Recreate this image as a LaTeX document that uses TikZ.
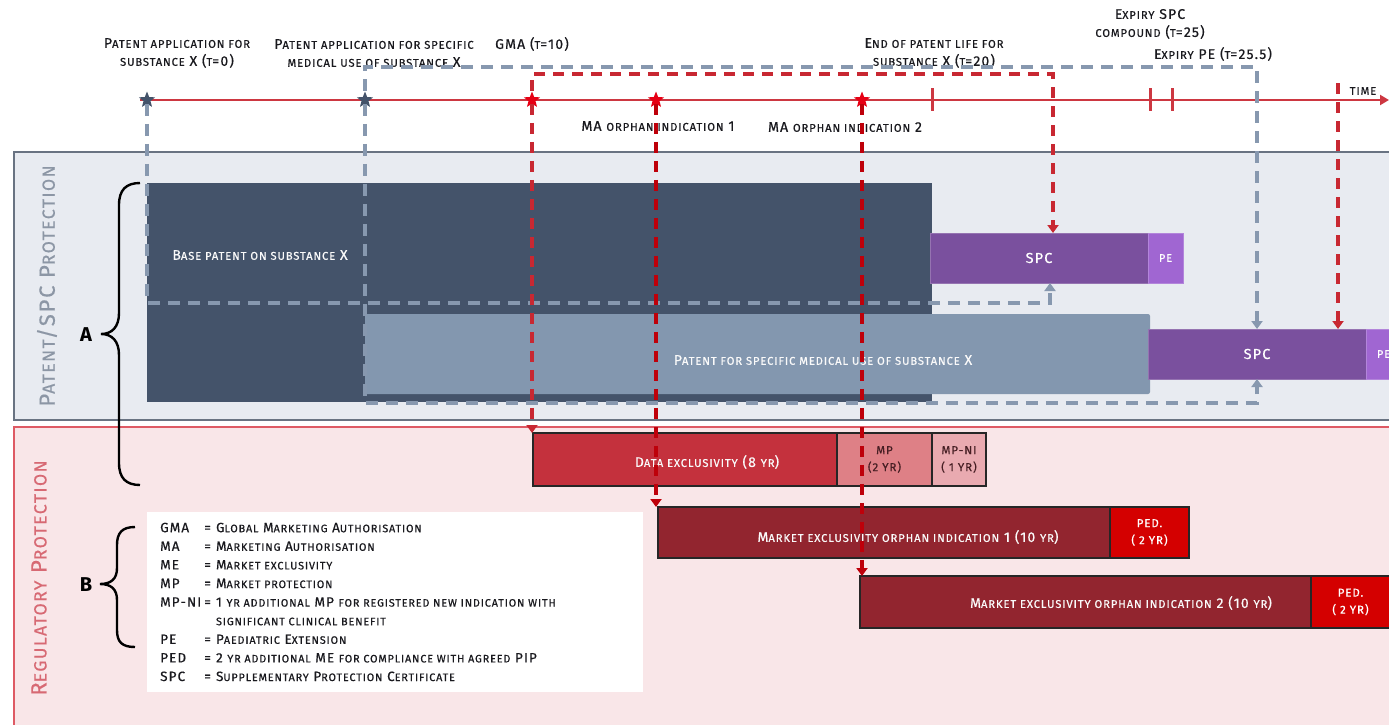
\documentclass[tikz,border=0pt]{standalone}
\usepackage{fontspec}
\setmainfont{Fira Sans}[LetterSpace=8, UprightFeatures={FakeBold=0.5}]
\usetikzlibrary{shapes.geometric,arrows.meta}
\makeatletter
\newcommand\sk[1]{{\fontsize{\the\dimexpr\f@size pt*80/100\relax}{\f@baselineskip}\selectfont\MakeUppercase{#1}}}
\makeatother
\definecolor{navy}{RGB}{68,83,106}
\definecolor{steel}{RGB}{131,151,175}
\definecolor{dashgray}{RGB}{135,152,175}
\definecolor{bandA}{RGB}{232,235,241}
\definecolor{bandAline}{RGB}{105,115,130}
\definecolor{bandB}{RGB}{249,230,232}
\definecolor{bandBline}{RGB}{222,90,100}
\definecolor{spc}{RGB}{122,80,158}
\definecolor{pe}{RGB}{160,102,210}
\definecolor{de}{RGB}{196,49,61}
\definecolor{mp}{RGB}{222,128,134}
\definecolor{mpni}{RGB}{233,170,176}
\definecolor{me}{RGB}{146,37,47}
\definecolor{ped}{RGB}{212,0,0}
\definecolor{tline}{RGB}{205,55,65}
\definecolor{dashred}{RGB}{200,40,50}
\definecolor{dashdark}{RGB}{190,0,10}
\definecolor{starred}{RGB}{230,0,20}
\definecolor{vtextA}{RGB}{140,150,165}
\definecolor{vtextB}{RGB}{215,105,115}
\definecolor{ink}{RGB}{25,25,30}
\definecolor{mptext}{RGB}{70,30,35}
\tikzset{
  bar/.style={rectangle, anchor=north west, inner sep=0pt, outer sep=0pt, align=center},
  barline/.style={draw=black!85, line width=1.2pt},
  lbl/.style={text=ink, align=center, inner sep=0pt},
  wtext/.style={text=white!96!gray, inner sep=0pt, align=center},
  gdash/.style={draw=dashgray, line width=3.6pt, dash pattern=on 12pt off 8pt, -{Triangle[width=11pt,length=8pt]}},
  rdash/.style={draw=dashred, line width=3.3pt, dash pattern=on 11pt off 8pt, -{Triangle[width=11pt,length=8pt]}},
  ddash/.style={rdash, draw=dashdark},
  starA/.style={star, star points=5, star point ratio=2.3, inner sep=0pt, minimum size=17pt, fill=navy},
  starB/.style={starA, fill=starred},
  tickmark/.style={draw=tline, line width=3pt},
  bracepath/.style={draw=black, line width=2.4pt},
}
\begin{document}
\begin{tikzpicture}[x=1pt,y=-1pt,font=\fontsize{14}{18}\selectfont]
\clip (0,0) rectangle (1389,725);
\fill[white] (0,0) rectangle (1389,725);
% bands
\filldraw[fill=bandA, draw=bandAline, line width=2pt] (14,152) rectangle (1405,420);
\filldraw[fill=bandB, draw=bandBline, line width=2pt] (14,427) rectangle (1405,740);
\node[rotate=90, text=vtextA, inner sep=0pt, font=\fontsize{22}{24}\selectfont] (vA) at (47,286) {P\sk{atent}/SPC P\sk{rotection}};
\node[rotate=90, text=vtextB, inner sep=0pt, font=\fontsize{22}{24}\selectfont] (vB) at (39,578) {R\sk{egulatory} P\sk{rotection}};
% timeline
\coordinate (t0) at (140,100);
\coordinate (t1) at (1389,100);
\draw[draw=tline, line width=2pt, -{Triangle[width=10pt,length=9pt]}] (t0) -- (t1);
\draw[tickmark] (932,88) -- (932,111);
\draw[tickmark] (1150,88) -- (1150,111);
\draw[tickmark] (1172,88) -- (1172,111);
\node[starA] (s0) at (147,100) {};
\node[starA] (s1) at (365,100) {};
\node[starB] (s2) at (532,100) {};
\node[starB] (s3) at (656,100) {};
\node[starB] (s4) at (862,100) {};
% top labels
\node[lbl] (l0) at (177,53) {P\sk{atent application for}\\\sk{substance} X (\sk{t}=0)};
\node[lbl] (l1) at (374,53) {P\sk{atent application for specific}\\\sk{medical use of substance} X};
\node[lbl] (lg) at (532,44) {GMA (\sk{t}=10)};
\node[lbl] (lm1) at (658,126) {MA \sk{orphan indication} 1};
\node[lbl] (lm2) at (845,127) {MA \sk{orphan indication} 2};
\node[lbl] (le) at (934,53) {E\sk{nd of patent life for}\\\sk{substance} X (\sk{t}=20)};
\node[lbl] (lx) at (1150,24) {E\sk{xpiry} SPC\\\sk{compound} (\sk{t}=25)};
\node[lbl] (lp) at (1213,54) {E\sk{xpiry} PE (\sk{t}=25.5)};
\node[lbl] (lt) at (1363,91) {\sk{time}};
% patent bars
\node[bar, fill=navy, minimum width=785pt, minimum height=219pt] (base) at (147,183) {};
\node[bar, fill=steel, rounded corners=2pt, minimum width=785pt, minimum height=80pt] (medu) at (365,314) {};
\node[wtext] (baseT) at (260,255) {B\sk{ase patent on substance} X};
\node[wtext] (meduT) at (823,360) {P\sk{atent for specific medical use of substance} X};
\node[bar, fill=spc, draw=spc!80!white, line width=0.8pt, minimum width=218pt, minimum height=50pt, text=white, font=\fontsize{14.5}{17}\selectfont] (spc1) at (930,233) {SPC};
\node[bar, fill=pe, draw=pe!80!white, line width=0.8pt, minimum width=35pt, minimum height=50pt, text=white, font=\fontsize{11}{13}\selectfont] (pe1) at (1148,233) {PE};
\node[bar, fill=spc, draw=spc!80!white, line width=0.8pt, minimum width=218pt, minimum height=50pt, text=white, font=\fontsize{14.5}{17}\selectfont] (spc2) at (1148,329) {SPC};
\node[bar, fill=pe, draw=pe!80!white, line width=0.8pt, minimum width=35pt, minimum height=50pt, text=white, font=\fontsize{11}{13}\selectfont] (pe2) at (1366,329) {PE};
% regulatory bars
\node[bar, barline, fill=de, minimum width=304pt, minimum height=53pt] (de) at (533,433) {};
\node[wtext] (deT) at (707,462) {D\sk{ata exclusivity} (8 \sk{yr})};
\node[bar, barline, fill=mp, minimum width=95pt, minimum height=53pt, text=mptext, font=\fontsize{11.5}{17}\selectfont] (mp) at (837,433) {MP\\(2 YR)};
\node[bar, barline, fill=mpni, minimum width=54pt, minimum height=53pt, text=mptext, font=\fontsize{11.5}{17}\selectfont] (mpni) at (932,433) {MP-NI\\( 1 YR)};
\node[bar, barline, fill=me, minimum width=452pt, minimum height=51pt] (me1) at (658,507) {};
\node[wtext] (me1T) at (908,537) {M\sk{arket exclusivity orphan indication} 1 (10 \sk{yr})};
\node[bar, barline, fill=ped, minimum width=79pt, minimum height=51pt, text=white, font=\fontsize{11.5}{17}\selectfont] (ped1) at (1110,507) {PED.\\( 2 YR)};
\node[bar, barline, fill=me, minimum width=451pt, minimum height=52pt] (me2) at (860,576) {};
\node[wtext] (me2T) at (1121,603) {M\sk{arket exclusivity orphan indication} 2 (10 \sk{yr})};
\node[bar, barline, fill=ped, minimum width=79pt, minimum height=52pt, text=white, font=\fontsize{11.5}{17}\selectfont] (ped2) at (1311,576) {PED.\\( 2 YR)};
% legend
\node[fill=white, anchor=north west, minimum width=496pt, minimum height=180pt, inner sep=0pt] (legbox) at (147,512) {};
\node[anchor=north west, inner sep=0pt, text=ink, font=\fontsize{13.5}{18.6}\selectfont] (legend) at (160,519) {%
\begin{tabular}{@{}l@{\hspace{3pt}}c@{\hspace{5pt}}l@{}}
GMA & = & G\sk{lobal} M\sk{arketing} A\sk{uthorisation}\\
MA & = & M\sk{arketing} A\sk{uthorisation}\\
ME & = & M\sk{arket exclusivity}\\
MP & = & M\sk{arket protection}\\
MP-NI & = & 1 \sk{yr additional} MP \sk{for registered new indication with}\\
 & & \sk{significant clinical benefit}\\
PE & = & P\sk{aediatric} E\sk{xtension}\\
PED & = & 2 \sk{yr additional} ME \sk{for compliance with agreed} PIP\\
SPC & = & S\sk{upplementary} P\sk{rotection} C\sk{ertificate}
\end{tabular}};
% braces
\draw[bracepath] (140,183) .. controls (126,183) and (119,190) .. (119,205) -- (119,313) .. controls (119,327) and (112,334) .. (101,334) .. controls (112,334) and (119,341) .. (119,355) -- (119,463) .. controls (119,478) and (126,485) .. (140,485);
\draw[bracepath] (135,527) .. controls (122,527) and (117,533) .. (117,545) -- (117,568) .. controls (117,579) and (111,584) .. (100,584) .. controls (111,584) and (117,589) .. (117,600) -- (117,630) .. controls (117,642) and (122,647) .. (135,647);
\node[inner sep=0pt, font=\bfseries\fontsize{20}{22}\selectfont] (A) at (86,335) {A};
\node[inner sep=0pt, font=\bfseries\fontsize{20}{22}\selectfont] (B) at (86,585) {B};
% connectors
\coordinate (g1) at (1050,303);
\coordinate (g2) at (1257,67);
\coordinate (g3) at (1257,403);
\coordinate (r1) at (1053,74);
\coordinate (r2) at (1338,83);
\draw[gdash] (s0) |- (g1) -- (g1 |- spc1.south);
\draw[gdash] (s1) |- (g2) -- (g2 |- spc2.north);
\draw[gdash] (s1) |- (g3) -- (g3 |- spc2.south);
\draw[rdash] (s2) |- (r1) -- (r1 |- spc1.north);
\draw[rdash] (s2) -- (s2 |- de.north);
\draw[ddash] (s3) -- (s3 |- me1.north);
\draw[ddash] (s4) -- (s4 |- me2.north);
\draw[rdash] (r2) -- (r2 |- spc2.north);
\end{tikzpicture}
\end{document}
